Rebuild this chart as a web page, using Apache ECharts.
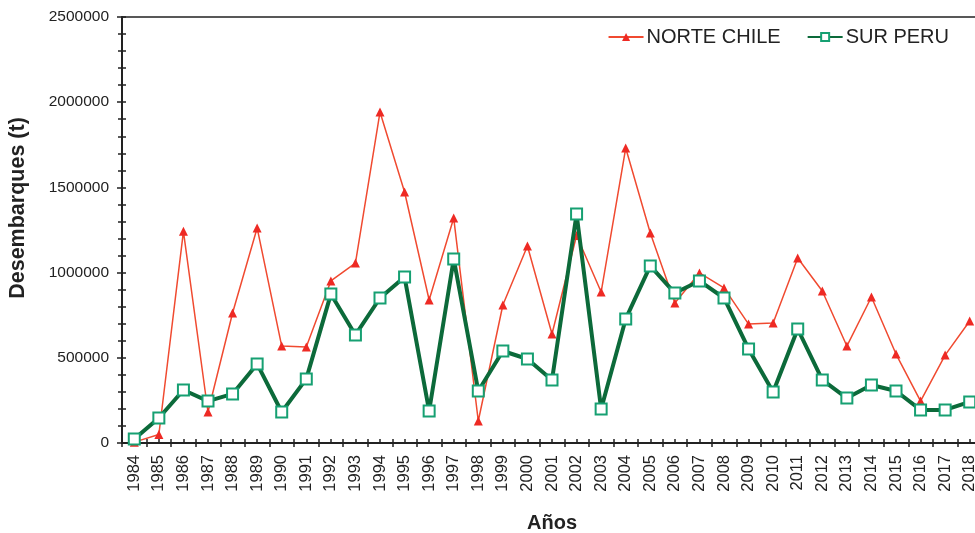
<!DOCTYPE html>
<html>
<head>
<meta charset="utf-8">
<script src="https://cdn.jsdelivr.net/npm/echarts@6/dist/echarts.min.js"></script>
<style>html,body{margin:0;padding:0;background:#fff}#c{width:975px;height:533px}</style>
</head>
<body>
<div id="c"></div>
<script>
const years = ['1984','1985','1986','1987','1988','1989','1990','1991','1992','1993','1994','1995','1996','1997','1998','1999','2000','2001','2002','2003','2004','2005','2006','2007','2008','2009','2010','2011','2012','2013','2014','2015','2016','2017','2018'];
const norteChile = [5000,50000,1242000,182000,763000,1262000,569000,563000,951000,1056000,1942000,1473000,839000,1320000,129000,810000,1156000,640000,1218000,886000,1731000,1232000,822000,998000,910000,698000,704000,1086000,892000,569000,857000,522000,246000,516000,716000];
const surPeru = [23000,147000,311000,246000,288000,464000,182000,376000,874000,634000,851000,974000,188000,1080000,305000,540000,493000,370000,1344000,200000,728000,1039000,880000,951000,851000,552000,299000,669000,370000,264000,340000,305000,194000,194000,241000];
const yTicks = {min:0, max:2500000, interval:500000};

const halfBands = [];
for (let i = 0; i < years.length * 2; i++) halfBands.push('');

const chart = echarts.init(document.getElementById('c'));
const font = 'Liberation Sans, Arial, sans-serif';
chart.setOption({
  animation: false,
  backgroundColor: '#fff',
  textStyle: {fontFamily: font},
  grid: {left: 122, top: 17, width: 860, height: 426, outerBoundsMode: 'none', containLabel: false,
         show: true, borderColor: '#222', borderWidth: 1.5, backgroundColor: 'transparent'},
  legend: {
    right: 21, top: 22, itemWidth: 35, itemHeight: 10, itemGap: 26,
    textStyle: {fontFamily: font, fontSize: 20, color: '#222', padding: [0, 0, 0, -2]},
    data: ['NORTE CHILE', 'SUR PERU']
  },
  graphic: [{
    type: 'text', x: 18, y: 208, rotation: Math.PI / 2,
    style: {text: 'Desembarques (t)', fontFamily: font, fontSize: 21.5, fontWeight: 'bold', fill: '#222',
            align: 'center', verticalAlign: 'middle'}
  }],
  xAxis: [{
    type: 'category', data: years, boundaryGap: true,
    axisLine: {lineStyle: {color: '#222', width: 2}},
    axisTick: {show: true, interval: 0, length: 4, lineStyle: {color: '#222', width: 1.5}},
    axisLabel: {rotate: 90, interval: 0, margin: 12, fontSize: 16.5, color: '#222', fontFamily: font},
    name: 'Años', nameLocation: 'middle', nameGap: 70,
    nameTextStyle: {fontSize: 20, fontWeight: 'bold', color: '#222', fontFamily: font}
  }, {
    type: 'category', data: halfBands, boundaryGap: true, position: 'bottom',
    axisLine: {show: false},
    axisTick: {show: true, inside: true, interval: 0, length: 4, lineStyle: {color: '#222', width: 1.5}},
    axisLabel: {show: false}
  }],
  yAxis: [{
    type: 'value', min: yTicks.min, max: yTicks.max, interval: yTicks.interval,
    axisLine: {show: true, lineStyle: {color: '#222', width: 2}},
    axisTick: {show: true, length: 5, lineStyle: {color: '#222', width: 1.5}},
    minorTick: {show: true, splitNumber: 5, length: 4, lineStyle: {color: '#222', width: 1.5}},
    splitLine: {show: false},
    axisLabel: {fontSize: 15.5, color: '#222', margin: 13, fontFamily: font, formatter: v => String(v)}
  }, {
    type: 'value', min: yTicks.min, max: yTicks.max, interval: yTicks.interval, position: 'left',
    axisLine: {show: false},
    axisTick: {show: true, inside: true, length: 4, lineStyle: {color: '#222', width: 1.5}},
    minorTick: {show: true, splitNumber: 5, length: 4, lineStyle: {color: '#222', width: 1.5}},
    splitLine: {show: false},
    axisLabel: {show: false}
  }],
  series: [{
    name: 'NORTE CHILE', type: 'line', data: norteChile, xAxisIndex: 0, yAxisIndex: 0,
    symbol: 'triangle', symbolSize: 9, z: 2,
    lineStyle: {color: '#f04a30', width: 1.5},
    itemStyle: {color: '#ee2a24'}
  }, {
    name: 'SUR PERU', type: 'line', data: surPeru, xAxisIndex: 0, yAxisIndex: 0,
    symbol: 'rect', symbolSize: 11, z: 3,
    lineStyle: {color: '#0c6a3a', width: 4},
    itemStyle: {color: '#ffffff', borderColor: '#16a072', borderWidth: 2}
  }]
});
</script>
</body>
</html>
